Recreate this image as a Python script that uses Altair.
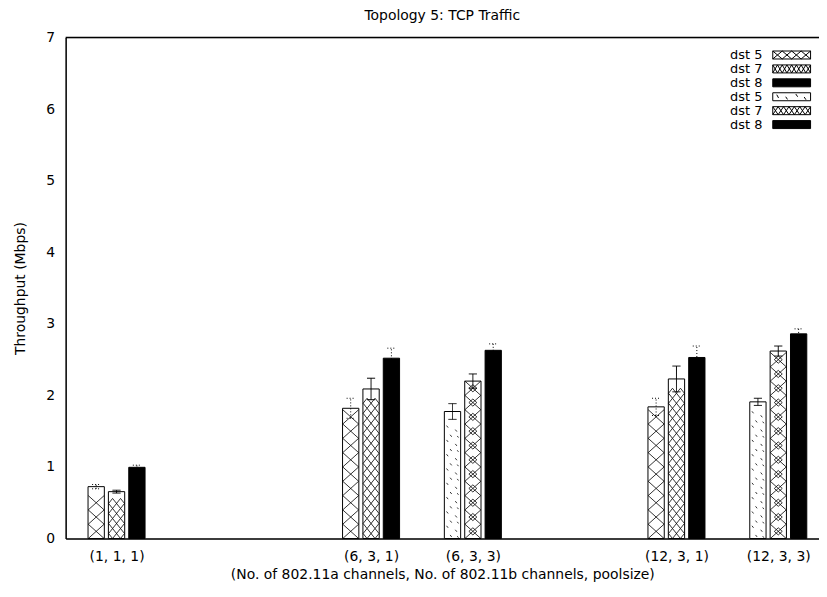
import altair as alt
import pandas as pd

# ---------------- data ----------------
title_text = "Topology 5: TCP Traffic"
x_title = "(No. of 802.11a channels, No. of 802.11b channels, poolsize)"
y_title = "Throughput (Mbps)"

groups = ["(1, 1, 1)", "(6, 3, 1)", "(6, 3, 3)", "(12, 3, 1)", "(12, 3, 3)"]
group_pos = [0.0, 2.5, 3.5, 5.5, 6.5]
group_set = ["A", "A", "B", "A", "B"]          # which legend block (pattern set)
series = ["dst 5", "dst 7", "dst 8"]

dst5_mean = [0.725, 1.82, 1.775, 1.84, 1.91]
dst7_mean = [0.655, 2.09, 2.20, 2.23, 2.62]
dst8_mean = [0.995, 2.52, 2.63, 2.53, 2.86]
dst5_err = [0.03, 0.14, 0.11, 0.12, 0.05]
dst7_err = [0.02, 0.15, 0.10, 0.18, 0.07]
dst8_err = [0.03, 0.14, 0.09, 0.16, 0.07]

y_ticks = [0, 1, 2, 3, 4, 5, 6, 7]
legend_keys = ["A dst 5", "A dst 7", "A dst 8", "B dst 5", "B dst 7", "B dst 8"]

rows = []
for i, g in enumerate(groups):
    for s, vals, errs in zip(series, [dst5_mean, dst7_mean, dst8_mean],
                             [dst5_err, dst7_err, dst8_err]):
        rows.append(dict(group=g, pos=group_pos[i], set=group_set[i], dst=s,
                         value=vals[i], err=errs[i], key=f"{group_set[i]} {s}"))
df = pd.DataFrame(rows)

# ---------------- layout ----------------
W, H = 758, 504
FONT = "DejaVu Sans"
FS = 14
x_scale = alt.Scale(domain=[-0.5, 6.9], nice=False, zero=False)
y_scale = alt.Scale(domain=[0, 7], nice=False)

label_expr = " : ".join(f"datum.value == {p} ? '{g}'" for p, g in zip(group_pos, groups)) + " : ''"

x_axis = alt.Axis(values=group_pos, labelExpr=label_expr, title=x_title,
                  ticks=False, grid=False, domainColor="black", domainWidth=1.5,
                  labelFont=FONT, labelFontSize=FS, labelColor="black",
                  labelPadding=11, labelOverlap=False, labelFlush=False,
                  titleFont=FONT, titleFontSize=FS, titleFontWeight="normal",
                  titleColor="black", titlePadding=4)
y_axis = alt.Axis(values=y_ticks, title=y_title, ticks=False, grid=False,
                  domainColor="black", domainWidth=1.5,
                  labelFont=FONT, labelFontSize=FS, labelColor="black",
                  labelPadding=11, labelFlush=False,
                  titleFont=FONT, titleFontSize=FS, titleFontWeight="normal",
                  titleColor="black", titlePadding=18)


def X(field):
    return alt.X(field, scale=x_scale, axis=x_axis)


def Y(field):
    return alt.Y(field, scale=y_scale, axis=y_axis)


base = alt.Chart(df).transform_calculate(
    off="datum.dst === 'dst 5' ? -0.2 : (datum.dst === 'dst 7' ? 0 : 0.2)"
).transform_calculate(
    xc="datum.pos + datum.off",
    xl="datum.pos + datum.off - 0.08",
    xr="datum.pos + datum.off + 0.08",
    cl="datum.pos + datum.off - 0.04",
    cr="datum.pos + datum.off + 0.04",
    lo="datum.value - datum.err",
    hi="datum.value + datum.err",
    barfill="datum.dst === 'dst 8' ? 'black' : 'white'",
)

bars = base.mark_bar(stroke="black", strokeWidth=1).encode(
    x=X("xl:Q"), x2="xr:Q",
    y=Y("value:Q"), y2=alt.datum(0),
    fill=alt.Fill("barfill:N", scale=None),
)

# fill patterns (path units: 1 = 8 px with size 256)
patterns = {
    "A dst 5": (0.2, "M-1,-0.9L1,0.9M1,-0.9L-1,0.9"),
    "A dst 7": (0.14, "M-0.5,-0.63L0.5,0.63M0.5,-0.63L-0.5,0.63"
                      "M-1,0L-0.5,-0.63M-1,0L-0.5,0.63M1,0L0.5,-0.63M1,0L0.5,0.63"),
    "B dst 5": (0.2, "M-0.75,-0.7L-0.55,-0.45M0.35,-0.2L0.55,0.05M-0.3,0.45L-0.1,0.7"
                     "M0.6,0.6L0.75,0.8"),
    "B dst 7": (0.2, "M-1,-0.9L1,0.9M1,-0.9L-1,0.9M0,-0.45L0.5,0L0,0.45L-0.5,0Z"),
}
pattern_layers = []
for key, (step, path) in patterns.items():
    layer = base.transform_filter(f"datum.key === '{key}'").transform_calculate(
        rows=f"sequence({step / 2}, datum.value - {step / 2} + 0.0001, {step})"
    ).transform_flatten(["rows"]).mark_point(
        shape=path, size=256, filled=False, color="black", strokeWidth=0.8, opacity=1
    ).encode(x=X("xc:Q"), y=Y("rows:Q"))
    pattern_layers.append(layer)

# error bars
dotted_keys = ["A dst 5", "A dst 8", "B dst 8"]
dot_filter = " || ".join(f"datum.key === '{k}'" for k in dotted_keys)
err_layers = []
for flt, dash in [(dot_filter, [1, 2]), (f"!({dot_filter})", [1, 0])]:
    eb = base.transform_filter(flt)
    err_layers.append(eb.mark_rule(color="black", strokeWidth=1, strokeDash=dash).encode(
        x=X("xc:Q"), y=Y("lo:Q"), y2="hi:Q"))
    for end in ["lo", "hi"]:
        err_layers.append(eb.mark_rule(color="black", strokeWidth=1, strokeDash=dash).encode(
            x=X("cl:Q"), x2="cr:Q", y=Y(f"{end}:Q")))

# top border
top_line = alt.Chart(pd.DataFrame({"a": [0]})).mark_rule(color="black", strokeWidth=1.5).encode(
    x=alt.value(0), x2=alt.value(W), y=alt.value(0))

# legend swatches: symbol size 144 -> 1 unit = 6 px; swatch 38 x 8 px
HX, HY = 3.17, 0.67
R = f"M{-HX},{-HY}H{HX}V{HY}H{-HX}Z"


def xs(n):
    w = 2 * HX / n
    out = ""
    for k in range(n):
        a = -HX + k * w
        b = a + w
        out += f"M{a:.3f},{-HY}L{b:.3f},{HY}M{b:.3f},{-HY}L{a:.3f},{HY}"
    return out


legend_paths = [
    R + xs(4),
    R + xs(8),
    R,
    R + "M-2.5,-0.35L-2.2,0.2M-1,0L-0.7,0.45M0.7,-0.45L1,0.0M2.1,0.05L2.4,0.5",
    R + xs(7),
    R,
]
legend_fills = ["white", "white", "black", "white", "white", "black"]

legend_layer = base.transform_filter("false").mark_point(
    filled=True, opacity=1, stroke="black", strokeWidth=1
).encode(
    shape=alt.Shape("key:N", scale=alt.Scale(domain=legend_keys, range=legend_paths),
                    legend=alt.Legend(title=None, orient="none", legendX=724, legendY=11,
                                      labelExpr="slice(datum.label, 2)", labelAlign="right",
                                      labelOffset=alt.ExprRef("-36"), labelFont=FONT,
                                      labelFontSize=13, labelColor="black", symbolSize=144,
                                      symbolStrokeColor="black", symbolStrokeWidth=1,
                                      symbolOpacity=1, rowPadding=0,
                                      padding=0, labelBaseline="middle")),
    fill=alt.Fill("key:N", scale=alt.Scale(domain=legend_keys, range=legend_fills)),
)

chart = alt.layer(bars, *pattern_layers, *err_layers, top_line, legend_layer).properties(
    width=W, height=H,
    title=alt.TitleParams(title_text, font=FONT, fontSize=FS, fontWeight="normal",
                          color="black", anchor="middle", offset=8),
    autosize=alt.AutoSizeParams(type="none"),
    padding={"left": 58, "top": 28, "right": 0, "bottom": 50},
).configure_view(stroke=None).configure(font=FONT)

chart.save("out.html", embed_options={"renderer": "svg", "actions": False})
